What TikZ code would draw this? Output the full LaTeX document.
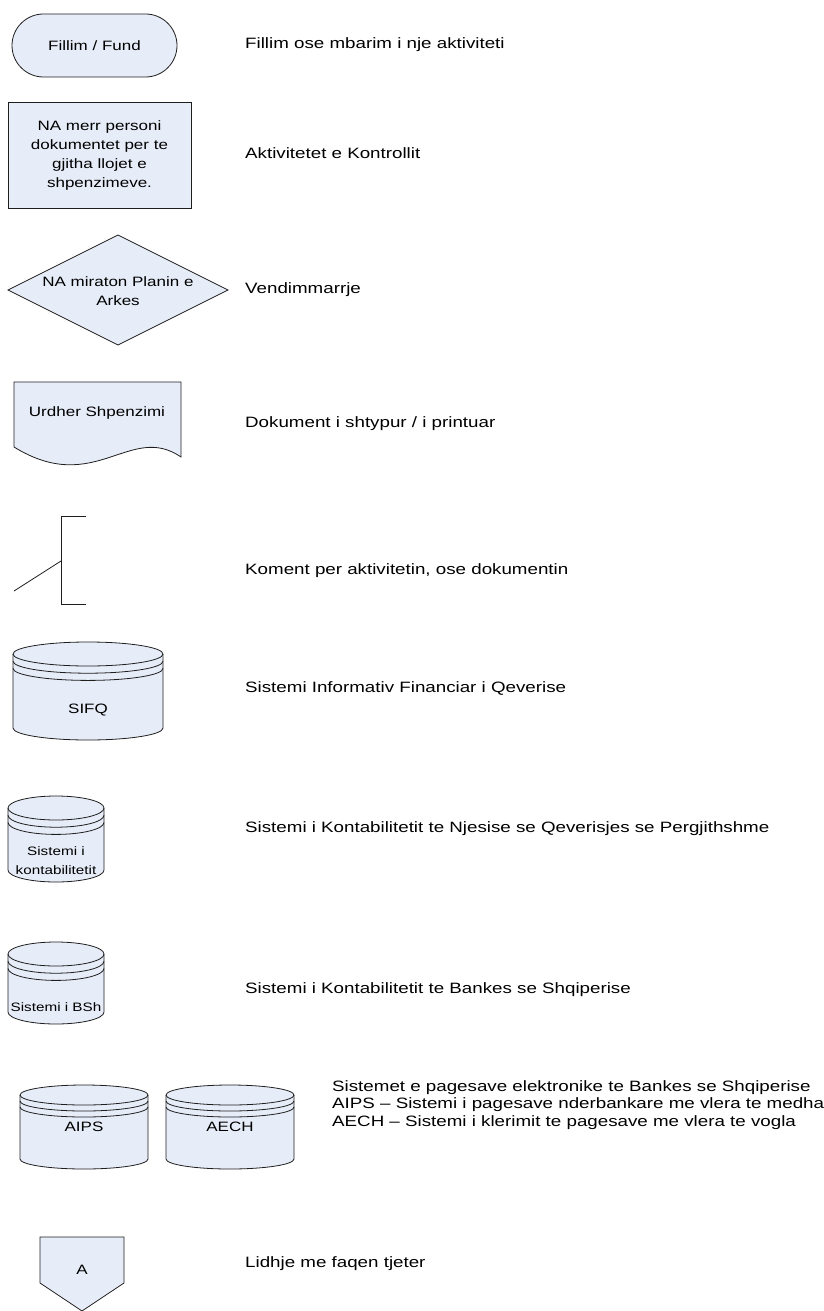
\documentclass[tikz,border=0pt]{standalone}
\usepackage{fontspec}
\setmainfont[FakeStretch=1.25]{Liberation Sans}
\usetikzlibrary{shapes.misc}
\definecolor{symfill}{RGB}{231,237,248}
\definecolor{symline}{RGB}{30,30,30}
\tikzset{
  sym/.style={draw=symline, fill=symfill, line width=0.8pt},
  edge/.style={draw=symline, line width=0.8pt},
  inner/.style={font=\fontsize{13.6}{19}\selectfont, align=center, inner sep=0pt},
  innersmall/.style={inner, font=\fontsize{12.2}{19}\selectfont},
  legend/.style={anchor=west, font=\fontsize{15}{17.5}\selectfont, inner sep=0pt, align=left},
  % database drum: #1 = width, #2 = height, #3 = lid radius; origin at top centre
  pics/dbdisk/.style n args={3}{code={
    \path[sym] (-#1/2,#3) -- (-#1/2,#2-#3)
      arc[start angle=180, end angle=0, x radius=#1/2, y radius=#3]
      -- (#1/2,#3)
      arc[start angle=0, end angle=-180, x radius=#1/2, y radius=#3] -- cycle;
    \draw[edge] (-#1/2,#3) arc[start angle=180, end angle=0, x radius=#1/2, y radius=#3];
    \draw[edge] (-#1/2,#3*1.6) arc[start angle=180, end angle=0, x radius=#1/2, y radius=#3];
    \draw[edge] (-#1/2,#3*2.2) arc[start angle=180, end angle=0, x radius=#1/2, y radius=#3];
  }}
}
\begin{document}
\begin{tikzpicture}[x=1pt, y=-1pt]
\useasboundingbox (0,0) rectangle (824,1311);

% start / end
\node[sym, rounded rectangle, minimum width=165pt, minimum height=63pt, inner] (term) at (94.5,45.5) {Fillim / Fund};
\node[legend] (termtxt) at (245,45) {Fillim ose mbarim i nje aktiviteti};

% process
\node[sym, rectangle, minimum width=183pt, minimum height=106pt, inner] (proc) at (99.5,155)
  {NA merr personi\\dokumentet per te\\gjitha llojet e\\shpenzimeve.};
\node[legend] (proctxt) at (245,153) {Aktivitetet e Kontrollit};

% decision
\path[sym] (8,290) -- (118,235) -- (228,290) -- (118,345) -- cycle;
\node[inner] (dec) at (118,291) {NA miraton Planin e\\Arkes};
\node[legend] (dectxt) at (245,290) {Vendimmarrje};

% printed document
\path[sym] (14,382) -- (181,382) -- (181,457) .. controls (130,422) and (95,497) .. (14,447) -- cycle;
\node[inner] (doc) at (97,413) {Urdher Shpenzimi};
\node[legend] (doctxt) at (245,424) {Dokument i shtypur / i printuar};

% annotation bracket
\coordinate (brtop) at (86,516);
\coordinate (brtl) at (61,516);
\coordinate (brbl) at (61,604);
\coordinate (brbot) at (86,604);
\coordinate (brmid) at (61,561);
\coordinate (brtail) at (14,591);
\draw[edge] (brtop) -- (brtl) -- (brbl) -- (brbot);
\draw[edge] (brmid) -- (brtail);
\node[legend] (brtxt) at (245,571) {Koment per aktivitetin, ose dokumentin};

% databases
\pic at (88,642) {dbdisk={150}{98}{12}};
\node[inner] (sifq) at (88,710) {SIFQ};
\node[legend] (sifqtxt) at (245,688) {Sistemi Informativ Financiar i Qeverise};

\pic at (56,796) {dbdisk={96}{86}{12}};
\node[innersmall] (kont) at (56,861) {Sistemi i\\kontabilitetit};
\node[legend] (konttxt) at (245,829) {Sistemi i Kontabilitetit te Njesise se Qeverisjes se Pergjithshme};

\pic at (56,942) {dbdisk={96}{82}{12}};
\node[innersmall] (bsh) at (56,1007) {Sistemi i BSh};
\node[legend] (bshtxt) at (245,990) {Sistemi i Kontabilitetit te Bankes se Shqiperise};

\pic at (84,1085) {dbdisk={128}{84}{10}};
\node[inner] (aips) at (84,1127) {AIPS};
\pic at (230,1085) {dbdisk={128}{84}{10}};
\node[inner] (aech) at (230,1127) {AECH};
\node[legend] (paytxt) at (332,1105)
  {Sistemet e pagesave elektronike te Bankes se Shqiperise\\
   AIPS -- Sistemi i pagesave nderbankare me vlera te medha\\
   AECH -- Sistemi i klerimit te pagesave me vlera te vogla};

% off-page connector
\path[sym] (40,1237) -- (124,1237) -- (124,1283) -- (82,1311) -- (40,1283) -- cycle;
\node[inner] (conn) at (82,1270) {A};
\node[legend] (conntxt) at (245,1264) {Lidhje me faqen tjeter};
\end{tikzpicture}
\end{document}
